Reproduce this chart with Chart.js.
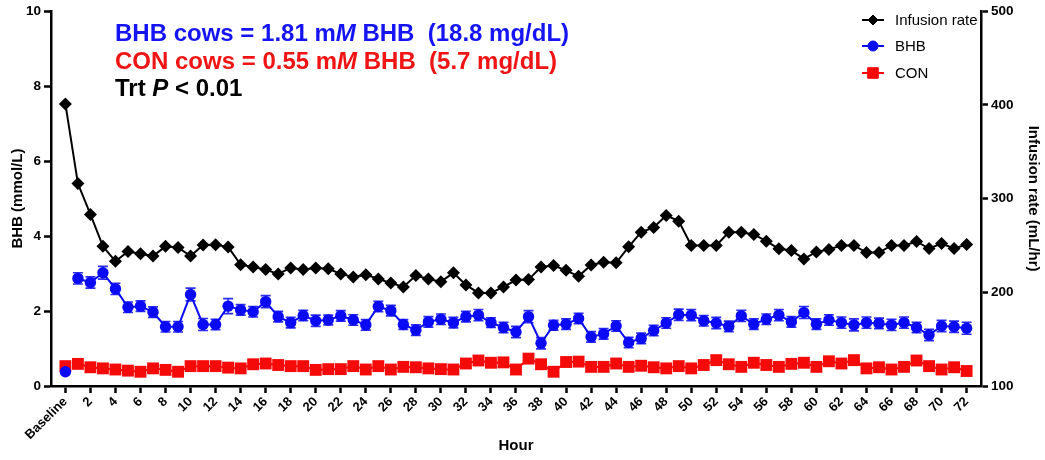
<!DOCTYPE html>
<html>
<head>
<meta charset="utf-8">
<script src="https://cdn.jsdelivr.net/npm/chart.js@4.4.1/dist/chart.umd.min.js"></script>
<style>
  html, body { margin: 0; padding: 0; background: #ffffff; }
  #wrap { width: 1045px; height: 460px; }
</style>
</head>
<body>
<div id="wrap"><canvas id="c" width="1045" height="460"></canvas></div>
<script>
// Hours after start of infusion (0 = baseline sample)
const HOURS = [
  0, 1, 2, 3, 4, 5, 6, 7, 8, 9,
  10, 11, 12, 13, 14, 15, 16, 17, 18, 19,
  20, 21, 22, 23, 24, 25, 26, 27, 28, 29,
  30, 31, 32, 33, 34, 35, 36, 37, 38, 39,
  40, 41, 42, 43, 44, 45, 46, 47, 48, 49,
  50, 51, 52, 53, 54, 55, 56, 57, 58, 59,
  60, 61, 62, 63, 64, 65, 66, 67, 68, 69,
  70, 71, 72
];

// Infusion rate, mL/hr (right axis)
const INFUSION_RATE = [
  401, 316, 283, 249, 233, 243.5, 241, 238.6, 249, 247.8,
  238.6, 250.4, 250.6, 248.3, 229.5, 227, 224.2, 219.6, 226, 224.2,
  226, 225, 219.6, 216.4, 218.8, 214.2, 210, 205.7, 217.8, 214.2,
  211.3, 220.7, 207.8, 199.3, 199.3, 205.7, 213, 213.5, 227, 228.5,
  223.4, 217, 229.2, 232, 231.4, 248.5, 264.1, 269.2, 282, 275.9,
  250, 250, 250, 264, 264, 261.7, 254.5, 246.4, 244.5, 235.6,
  243.1, 245.6, 250, 250, 242.4, 242.4, 250, 250, 254.2, 246.7,
  252, 246.7, 251
];

// Plasma BHB of infused cows, mmol/L (mean and SEM)
const BHB_MEAN = [
  0.38, 2.87, 2.76, 3.02, 2.59, 2.10, 2.13, 1.97, 1.58, 1.58,
  2.44, 1.64, 1.64, 2.13, 2.03, 1.98, 2.25, 1.85, 1.69, 1.88,
  1.74, 1.76, 1.87, 1.76, 1.63, 2.12, 2.01, 1.64, 1.49, 1.71,
  1.78, 1.69, 1.85, 1.89, 1.69, 1.56, 1.44, 1.85, 1.14, 1.62,
  1.65, 1.80, 1.31, 1.39, 1.60, 1.16, 1.27, 1.48, 1.68, 1.90,
  1.89, 1.74, 1.68, 1.59, 1.87, 1.65, 1.78, 1.89, 1.71, 1.96,
  1.65, 1.76, 1.69, 1.63, 1.69, 1.67, 1.63, 1.69, 1.56, 1.36,
  1.60, 1.58, 1.54
];
const BHB_SEM = [
  0.03, 0.15, 0.15, 0.17, 0.15, 0.14, 0.14, 0.14, 0.14, 0.14,
  0.17, 0.16, 0.14, 0.20, 0.14, 0.14, 0.16, 0.14, 0.14, 0.14,
  0.15, 0.13, 0.14, 0.14, 0.14, 0.14, 0.14, 0.13, 0.14, 0.14,
  0.14, 0.14, 0.14, 0.15, 0.13, 0.14, 0.15, 0.16, 0.15, 0.13,
  0.14, 0.14, 0.14, 0.14, 0.14, 0.14, 0.14, 0.14, 0.14, 0.15,
  0.15, 0.14, 0.15, 0.14, 0.15, 0.14, 0.14, 0.15, 0.14, 0.16,
  0.14, 0.14, 0.15, 0.16, 0.15, 0.14, 0.15, 0.15, 0.14, 0.15,
  0.15, 0.15, 0.16
];

// Plasma BHB of control cows, mmol/L
const CON_MEAN = [
  0.53, 0.59, 0.50, 0.47, 0.44, 0.41, 0.38, 0.47, 0.43, 0.38,
  0.53, 0.53, 0.53, 0.49, 0.47, 0.58, 0.60, 0.56, 0.53, 0.53,
  0.43, 0.45, 0.45, 0.53, 0.44, 0.53, 0.44, 0.51, 0.50, 0.47,
  0.45, 0.44, 0.60, 0.68, 0.62, 0.63, 0.44, 0.73, 0.58, 0.38,
  0.64, 0.65, 0.51, 0.51, 0.60, 0.51, 0.54, 0.50, 0.47, 0.53,
  0.47, 0.56, 0.69, 0.58, 0.51, 0.62, 0.56, 0.51, 0.59, 0.62,
  0.51, 0.66, 0.60, 0.69, 0.47, 0.50, 0.44, 0.51, 0.68, 0.53,
  0.44, 0.50, 0.40
];

// Axis ticks
const X_TICKS = [0, 2, 4, 6, 8, 10, 12, 14, 16, 18, 20, 22, 24, 26, 28, 30, 32, 34, 36,
                 38, 40, 42, 44, 46, 48, 50, 52, 54, 56, 58, 60, 62, 64, 66, 68, 70, 72];
const X_TICK_LABELS = ['Baseline', '2', '4', '6', '8', '10', '12', '14', '16', '18', '20', '22',
                       '24', '26', '28', '30', '32', '34', '36', '38', '40', '42', '44', '46', '48',
                       '50', '52', '54', '56', '58', '60', '62', '64', '66', '68', '70', '72'];
const LEFT_TICKS = [0, 2, 4, 6, 8, 10];
const RIGHT_TICKS = [100, 200, 300, 400, 500];

// Summary notes shown in the upper left
const NOTE_LINES = [
  { color: '#1414f5', parts: [['BHB cows = 1.81 m', false], ['M', true], [' BHB  (18.8 mg/dL)', false]] },
  { color: '#f01414', parts: [['CON cows = 0.55 m', false], ['M', true], [' BHB  (5.7 mg/dL)', false]] },
  { color: '#000000', parts: [['Trt ', false], ['P', true], [' < 0.01', false]] }
];

const LEGEND_NAMES = ['Infusion rate', 'BHB', 'CON'];

const FONT = "'Liberation Sans', Arial, Helvetica, sans-serif";
const BLUE = '#0a0af5';
const RED = '#f50a0a';
const BLACK = '#000000';

Chart.defaults.font.family = FONT;
Chart.defaults.color = BLACK;

const hideBaselineSegment = (color) => (ctx) => ctx.p0DataIndex === 0 ? 'rgba(0,0,0,0)' : color;

// SEM whiskers for the BHB series, drawn just beneath its markers
const errorBars = {
  id: 'errorBars',
  beforeDatasetDraw(chart, args) {
    if (args.meta.label !== 'BHB') return;
    const { ctx } = chart;
    const xs = chart.scales.x, ys = chart.scales.y;
    ctx.save();
    ctx.strokeStyle = 'rgb(45,45,240)';
    ctx.lineWidth = 1.6;
    BHB_MEAN.forEach((m, i) => {
      const x = xs.getPixelForValue(HOURS[i]);
      const yTop = ys.getPixelForValue(m + BHB_SEM[i]);
      const yBot = ys.getPixelForValue(m - BHB_SEM[i]);
      ctx.beginPath();
      ctx.moveTo(x, yTop); ctx.lineTo(x, yBot);
      ctx.moveTo(x - 5, yTop); ctx.lineTo(x + 5, yTop);
      ctx.moveTo(x - 5, yBot); ctx.lineTo(x + 5, yBot);
      ctx.stroke();
    });
    ctx.restore();
  }
};

// Notes block and the line+marker legend
const notesAndLegend = {
  id: 'notesAndLegend',
  afterDraw(chart) {
    const { ctx } = chart;
    ctx.save();
    ctx.textBaseline = 'alphabetic';
    ctx.textAlign = 'left';
    const baselines = [41, 69, 96];
    NOTE_LINES.forEach((line, li) => {
      let x = 115;
      ctx.fillStyle = line.color;
      line.parts.forEach(([txt, italic]) => {
        ctx.font = (italic ? 'italic ' : '') + 'bold 24px ' + FONT;
        ctx.fillText(txt, x, baselines[li]);
        x += ctx.measureText(txt).width;
      });
    });

    const rows = [20, 46, 73];
    const legendRadius = { rectRot: 5, circle: 5, rect: 7.5 };
    chart.data.datasets.forEach((ds, i) => {
      const y = rows[i];
      ctx.strokeStyle = ds.borderColor;
      ctx.lineWidth = 2;
      ctx.beginPath();
      ctx.moveTo(862, y); ctx.lineTo(884, y);
      ctx.stroke();
      ctx.fillStyle = ds.pointBackgroundColor;
      ctx.strokeStyle = ds.pointBackgroundColor;
      ctx.lineWidth = 1;
      Chart.helpers.drawPoint(ctx, { pointStyle: ds.pointStyle, radius: legendRadius[ds.pointStyle], rotation: 0, borderWidth: 1 }, 873, y);
      ctx.fillStyle = BLACK;
      ctx.font = '15px ' + FONT;
      ctx.textBaseline = 'middle';
      ctx.fillText(LEGEND_NAMES[i], 895, y + 1);
    });
    ctx.restore();
  }
};

const axisBorder = { display: true, color: BLACK, width: 2.5 };
const axisGrid = { display: true, drawOnChartArea: false, drawTicks: true, tickLength: 7, tickWidth: 2.5, tickColor: BLACK };

new Chart(document.getElementById('c'), {
  type: 'line',
  data: {
    labels: HOURS,
    datasets: [
      {
        label: 'Infusion rate',
        data: INFUSION_RATE,
        yAxisID: 'y2',
        borderColor: BLACK,
        borderWidth: 2,
        pointStyle: 'rectRot',
        pointRadius: 6.5,
        pointBorderWidth: 0,
        pointBackgroundColor: BLACK,
        backgroundColor: BLACK,
        tension: 0,
        order: 0
      },
      {
        label: 'BHB',
        data: BHB_MEAN,
        yAxisID: 'y',
        borderColor: BLUE,
        borderWidth: 2,
        pointStyle: 'circle',
        pointRadius: 5.7,
        pointBorderWidth: 0,
        pointBackgroundColor: BLUE,
        backgroundColor: BLUE,
        segment: { borderColor: hideBaselineSegment(BLUE) },
        tension: 0,
        order: 1
      },
      {
        label: 'CON',
        data: CON_MEAN,
        yAxisID: 'y',
        borderColor: RED,
        borderWidth: 2,
        pointStyle: 'rect',
        pointRadius: 8.4,
        pointBorderWidth: 0,
        pointBackgroundColor: RED,
        backgroundColor: RED,
        segment: { borderColor: hideBaselineSegment(RED) },
        tension: 0,
        order: 2
      }
    ]
  },
  options: {
    responsive: false,
    animation: false,
    devicePixelRatio: 1,
    layout: { padding: { top: 11, left: 0, right: 0, bottom: 0 } },
    plugins: { legend: { display: false }, tooltip: { enabled: false } },
    scales: {
      x: {
        type: 'linear',
        min: -1.15,
        max: 73.15,
        afterBuildTicks: (s) => { s.ticks = X_TICKS.map((v) => ({ value: v })); },
        afterFit: (s) => { s.height = 74; },
        ticks: {
          autoSkip: false,
          minRotation: 45,
          maxRotation: 45,
          padding: 1,
          color: BLACK,
          font: { size: 13, weight: 'bold' },
          callback: (v) => X_TICK_LABELS[X_TICKS.indexOf(v)]
        },
        grid: axisGrid,
        border: axisBorder,
        title: { display: true, text: 'Hour', color: BLACK, font: { size: 15, weight: 'bold' }, padding: { top: 0, bottom: 5 } }
      },
      y: {
        position: 'left',
        min: 0,
        max: 10,
        afterBuildTicks: (s) => { s.ticks = LEFT_TICKS.map((v) => ({ value: v })); },
        afterFit: (s) => { s.width = 51; },
        ticks: { color: BLACK, padding: 3, font: { size: 13.5, weight: 'bold' } },
        grid: axisGrid,
        border: axisBorder,
        title: { display: true, text: 'BHB (mmol/L)', color: BLACK, font: { size: 15, weight: 'bold' }, padding: { top: 9, bottom: 0 } }
      },
      y2: {
        position: 'right',
        min: 100,
        max: 500,
        afterBuildTicks: (s) => { s.ticks = RIGHT_TICKS.map((v) => ({ value: v })); },
        afterFit: (s) => { s.width = 64; },
        ticks: { color: BLACK, padding: 3, font: { size: 13.5, weight: 'bold' } },
        grid: axisGrid,
        border: axisBorder,
        title: { display: true, text: 'Infusion rate (mL/hr)', color: BLACK, font: { size: 15, weight: 'bold' }, padding: { top: 3, bottom: 0 } }
      }
    }
  },
  plugins: [errorBars, notesAndLegend]
});
</script>
</body>
</html>
